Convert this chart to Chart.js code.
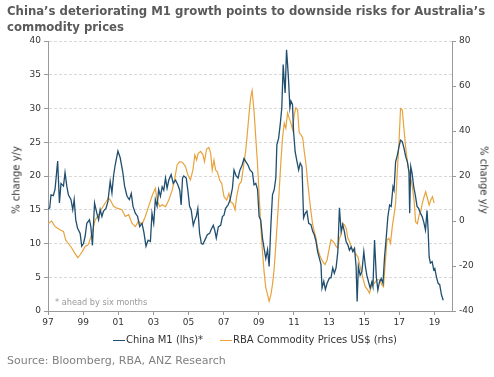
<!DOCTYPE html>
<html><head><meta charset="utf-8">
<script src="https://cdn.jsdelivr.net/npm/chart.js@4.4.1/dist/chart.umd.min.js"></script>
<style>
html,body{margin:0;padding:0;background:#fff;}
body{width:494px;height:377px;position:relative;overflow:hidden;font-family:"DejaVu Sans",Verdana,sans-serif;}
#c{position:absolute;left:0;top:0;}
.t{position:absolute;white-space:nowrap;}
#title{left:7px;top:3px;font-weight:bold;font-size:11.7px;line-height:16px;color:#5a5a5a;}
.ax{font-size:10px;color:#333;transform:translate(-50%,-50%) rotate(-90deg);}
.axr{font-size:10px;color:#333;transform:translate(-50%,-50%) rotate(90deg);}
#note{left:55px;top:297px;font-size:8.2px;color:#999;}
#legend{left:113px;top:334px;font-size:10px;color:#333;}
#legend span.l{display:inline-block;width:12px;height:0;border-top:1.5px solid;vertical-align:middle;margin-right:1px;}
#legend span.g{display:inline-block;width:17px;}
#source{left:7px;top:354px;font-size:11px;color:#808080;}
</style>
</head><body>
<canvas id="c" width="494" height="377"></canvas>
<div class="t" id="title">China’s deteriorating M1 growth points to downside risks for Australia’s<br>commodity prices</div>
<div class="t ax" style="left:16px;top:180px;">% change y/y</div>
<div class="t axr" style="left:484px;top:180px;">% change y/y</div>
<div class="t" id="note">* ahead by six months</div>
<div class="t" id="legend"><span class="l" style="border-color:#1f4e6f"></span>China M1 (lhs)*<span class="g"></span><span class="l" style="border-color:#e8a33c"></span>RBA Commodity Prices US$ (rhs)</div>
<div class="t" id="source">Source: Bloomberg, RBA, ANZ Research</div>
<script>
const m1Years=[1997.02,1997.10,1997.17,1997.30,1997.40,1997.55,1997.65,1997.74,1997.88,1997.97,1998.07,1998.16,1998.31,1998.41,1998.49,1998.58,1998.68,1998.83,1998.92,1999.02,1999.11,1999.21,1999.36,1999.44,1999.53,1999.65,1999.78,1999.88,1999.97,2000.07,2000.16,2000.30,2000.41,2000.54,2000.64,2000.73,2000.83,2000.98,2001.11,2001.25,2001.36,2001.50,2001.63,2001.74,2001.84,2001.97,2002.10,2002.22,2002.35,2002.45,2002.58,2002.70,2002.83,2002.92,2003.02,2003.11,2003.21,2003.30,2003.40,2003.50,2003.59,2003.69,2003.78,2003.88,2004.01,2004.13,2004.26,2004.39,2004.50,2004.58,2004.66,2004.73,2004.87,2004.96,2005.06,2005.15,2005.27,2005.36,2005.44,2005.53,2005.63,2005.73,2005.82,2005.93,2006.07,2006.20,2006.31,2006.41,2006.49,2006.58,2006.70,2006.83,2006.93,2007.02,2007.11,2007.25,2007.36,2007.50,2007.59,2007.70,2007.82,2007.93,2008.05,2008.16,2008.27,2008.39,2008.50,2008.64,2008.73,2008.83,2008.93,2009.02,2009.11,2009.21,2009.30,2009.40,2009.50,2009.59,2009.69,2009.78,2009.88,2009.97,2010.03,2010.13,2010.22,2010.31,2010.39,2010.45,2010.50,2010.58,2010.64,2010.70,2010.77,2010.83,2010.92,2010.98,2011.07,2011.17,2011.27,2011.36,2011.46,2011.55,2011.65,2011.74,2011.84,2011.97,2012.07,2012.16,2012.26,2012.35,2012.45,2012.54,2012.60,2012.70,2012.79,2012.89,2013.02,2013.11,2013.21,2013.30,2013.40,2013.50,2013.59,2013.69,2013.78,2013.87,2013.97,2014.07,2014.16,2014.26,2014.35,2014.45,2014.54,2014.60,2014.67,2014.77,2014.87,2014.98,2015.07,2015.15,2015.25,2015.34,2015.44,2015.50,2015.59,2015.69,2015.78,2015.87,2015.97,2016.07,2016.16,2016.26,2016.35,2016.45,2016.54,2016.64,2016.70,2016.79,2016.89,2016.98,2017.07,2017.17,2017.27,2017.36,2017.46,2017.55,2017.59,2017.65,2017.73,2017.82,2017.91,2018.01,2018.10,2018.20,2018.30,2018.39,2018.49,2018.58,2018.64,2018.70,2018.77,2018.87,2018.96,2019.02,2019.11,2019.21,2019.30,2019.40,2019.50];
const m1Values=[15.1,15.3,17.2,17.1,18,22.2,16,18.9,18.5,20.5,18.5,17.2,16.5,15,16.5,13.5,12.3,11.5,9.6,10,11,13,13.5,12.5,9.7,16,14.5,13.5,15,14,14.8,15.2,16.2,19.2,17.5,20,21.7,23.7,22.7,20.7,18.5,17,16.5,17.4,15.5,14.5,14,12.5,13,11.8,9.6,10.5,10.3,14.5,13,16.5,15.5,18,17,18.4,17.9,19.7,18.2,19.4,20.2,18.9,19.4,18.7,17.9,15.7,19.7,20,19.7,17.9,15.5,15,12.7,13.5,14,15.2,11.5,10,9.9,10.5,11.3,11.5,12.2,12.7,12,10.8,12.5,12.7,14,14.2,15.2,15.7,16.4,18.2,20.9,20.1,19.7,20.9,21.6,22.6,22.1,21.6,20.9,20.5,18.7,18.9,18,14,13.5,10.8,9.3,7.8,9.1,6.6,12.8,17.2,18,19.7,24.6,25.6,27.6,30.1,36.5,34,32.3,38.7,36.5,34,30.1,31.1,30.6,26.6,23.6,22.2,20.9,21.9,21.4,13.8,14.5,14.8,13,12.8,11.8,11.3,10.3,8.8,7.8,6.9,3.4,4.4,3.2,4.1,4.9,4.9,6.4,5.6,6.4,8.8,15.3,11.8,12.8,11.8,10.3,9.8,9,9.5,8.8,9.3,6.6,1.4,6.6,5.3,5.8,8.8,6.6,5.3,4.3,3.4,4.3,3.6,10.5,5.1,3.1,4.3,4.8,4.1,8,11,14,15.7,15.5,18.4,17.9,22.1,23.1,24.3,25.3,25.1,24.1,22.9,22.1,20.6,14.5,21.4,20.4,18.4,17.2,15.5,15.2,14.5,14,13.2,12,14.9,12,8,7.1,7.3,6.1,6.3,5.1,4.1,3.9,2.4,1.6];
const commYears=[1997.02,1997.21,1997.40,1997.69,1997.88,1998.01,1998.16,1998.35,1998.54,1998.70,1998.83,1998.96,1999.11,1999.30,1999.50,1999.69,1999.88,2000.07,2000.26,2000.45,2000.54,2000.73,2000.93,2001.21,2001.40,2001.59,2001.78,2001.97,2002.16,2002.35,2002.54,2002.73,2002.92,2002.98,2003.11,2003.21,2003.36,2003.50,2003.69,2003.88,2004.07,2004.20,2004.35,2004.50,2004.66,2004.83,2004.96,2005.11,2005.25,2005.36,2005.46,2005.55,2005.69,2005.82,2005.91,2006.03,2006.16,2006.26,2006.35,2006.45,2006.54,2006.64,2006.77,2006.89,2007.02,2007.17,2007.30,2007.40,2007.53,2007.65,2007.74,2007.88,2008.01,2008.13,2008.26,2008.35,2008.45,2008.54,2008.62,2008.73,2008.83,2008.93,2009.02,2009.11,2009.21,2009.30,2009.40,2009.50,2009.59,2009.69,2009.78,2009.88,2009.97,2010.07,2010.16,2010.26,2010.35,2010.45,2010.54,2010.64,2010.73,2010.83,2010.92,2011.02,2011.11,2011.21,2011.30,2011.40,2011.50,2011.59,2011.69,2011.78,2011.88,2011.97,2012.07,2012.16,2012.26,2012.35,2012.49,2012.64,2012.77,2012.89,2012.98,2013.11,2013.21,2013.30,2013.40,2013.50,2013.59,2013.69,2013.78,2013.87,2013.97,2014.07,2014.16,2014.26,2014.35,2014.50,2014.64,2014.77,2014.93,2015.06,2015.21,2015.30,2015.44,2015.59,2015.73,2015.87,2016.01,2016.10,2016.20,2016.30,2016.41,2016.50,2016.60,2016.70,2016.79,2016.89,2016.98,2017.07,2017.17,2017.27,2017.36,2017.46,2017.55,2017.65,2017.74,2017.84,2017.93,2018.03,2018.13,2018.22,2018.31,2018.41,2018.50,2018.60,2018.70,2018.79,2018.89,2018.98];
const commValues=[-1,0,-2.5,-4,-4.6,-8.5,-10,-12,-14.5,-16.3,-15,-13.5,-11.3,-10.5,-5.5,0.5,2.8,5.7,8,10.2,9.4,6.5,5.7,5,2,2.8,-1,-2.5,-0.1,-1.6,2,6.5,11,12.2,14.5,9.3,6.4,7.2,6.4,9.3,13.7,18.2,24.9,26.4,26,24.2,20.5,18.2,22.7,29.4,27.1,30.1,30.9,29.4,26.4,32,32.7,30.1,22.7,27.1,22.7,21.9,18.2,16.7,10.8,9.3,12.3,8.5,7.8,5,10.8,16.2,17.6,24.2,31.6,39,48,55,58,48.8,36.9,25,11.7,-1.7,-13.5,-22.4,-29.7,-32.7,-35.7,-32.7,-28.3,-20.9,-10.5,1.4,13.2,26.5,36.9,43.5,41.2,48,45.7,43.5,40.7,47.3,50.3,49.5,39.2,38.4,36.9,30.9,25,17.6,10.2,4.3,-1.7,-4.6,-7.6,-12,-15.7,-18.1,-19.4,-17.2,-13.5,-8.3,-9,-9.8,-11.3,-12,-7.6,-6.1,-1,-1.7,-3.1,-7.6,-9,-11.5,-12.9,-14.4,-15.9,-20.3,-25.5,-29.2,-30.7,-32.1,-28.4,-27.6,-26.1,-26.1,-28.4,-29.2,-18.8,-8.4,-7.7,-9.9,-2.5,2.7,7.9,22.6,34.5,50,49.3,40.5,33,26.3,21.9,19,15.3,9.3,-0.4,-1.2,2.7,4.2,7.9,10.8,13,10.1,7.1,9.3,10.8,7.9];
const xTickYears=[1997,1999,2001,2003,2005,2007,2009,2011,2013,2015,2017,2019];
const xTickLabels=['97','99','01','03','05','07','09','11','13','15','17','19'];
const leftAxisRange=[0,40,5];
const rightAxisRange=[-40,80,20];

const toPts=(xs,ys)=>xs.map((x,i)=>({x:x,y:ys[i]}));
const tickFont={family:'"DejaVu Sans", Verdana, sans-serif',size:9};
new Chart(document.getElementById('c'),{
  type:'line',
  data:{datasets:[
    {label:'China M1 (lhs)*',data:toPts(m1Years,m1Values),yAxisID:'y',borderColor:'#1f4e6f',borderWidth:1.3,pointRadius:0,tension:0,fill:false},
    {label:'RBA Commodity Prices US$ (rhs)',data:toPts(commYears,commValues),yAxisID:'y1',borderColor:'#e8a33c',borderWidth:1.2,pointRadius:0,tension:0,fill:false}
  ]},
  options:{
    responsive:false,animation:false,events:[],
    layout:{padding:{top:41,bottom:46,left:0,right:0}},
    plugins:{legend:{display:false},tooltip:{enabled:false}},
    scales:{
      x:{type:'linear',position:'bottom',min:1997,max:2020,
        afterBuildTicks:s=>{s.ticks=xTickYears.map(v=>({value:v}));},
        afterFit:s=>{s.height=20;},
        ticks:{autoSkip:false,maxRotation:0,font:tickFont,color:'#333',padding:2,
          callback:v=>{const i=xTickYears.indexOf(v);return i>=0?xTickLabels[i]:'';}},
        grid:{drawOnChartArea:false,drawTicks:true,tickLength:4,tickColor:'#999'},
        border:{color:'#999',width:1}},
      y:{position:'left',min:leftAxisRange[0],max:leftAxisRange[1],
        afterFit:s=>{s.width=48;},
        ticks:{stepSize:leftAxisRange[2],font:tickFont,color:'#333',padding:3},
        grid:{color:'#d9d9d9',drawTicks:true,tickLength:4,tickColor:'#999',tickBorderDash:[]},
        border:{color:'#999',width:1,dash:[3,2]}},
      y1:{position:'right',min:rightAxisRange[0],max:rightAxisRange[1],
        afterFit:s=>{s.width=42;},
        ticks:{stepSize:rightAxisRange[2],font:tickFont,color:'#333',padding:3},
        grid:{drawOnChartArea:false,drawTicks:true,tickLength:4,tickColor:'#999'},
        border:{color:'#999',width:1}}
    }
  }
});
</script>
</body></html>
